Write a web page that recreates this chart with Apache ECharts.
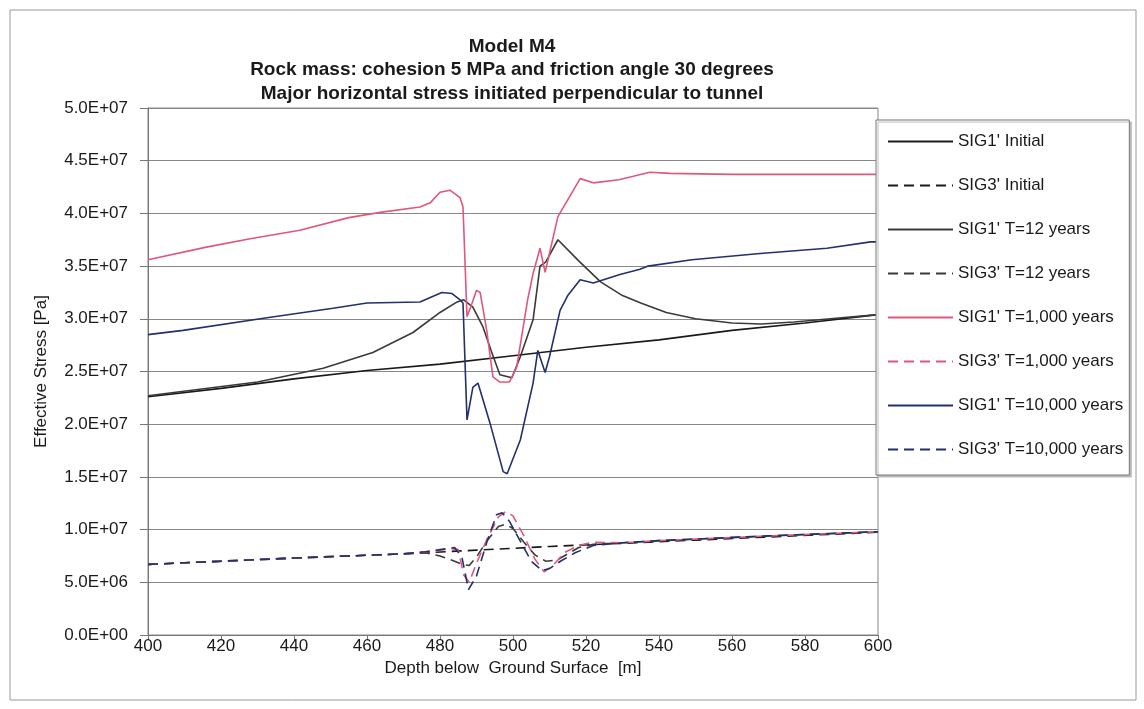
<!DOCTYPE html>
<html lang="en">
<head>
	<meta charset="UTF-8">
	<title>Model M4 - Effective Stress</title>
	<script src="https://cdn.jsdelivr.net/npm/echarts@6/dist/echarts.min.js"></script>
	<style>
		html, body {
			margin: 0;
			padding: 0;
			background-color: #fff;
		}
		#chart {
			width: 1144px;
			height: 709px;
		}
	</style>
</head>
<body>
	<div id="chart"></div>

	<script>
		// ---- data (depth in m, stress in Pa) ----
		var depthSig1Init = [400, 420, 440, 460, 480, 500, 520, 540, 560, 580, 600];
		var sig1Init = [2.26e7, 2.34e7, 2.43e7, 2.51e7, 2.57e7, 2.65e7, 2.73e7, 2.80e7, 2.89e7, 2.96e7, 3.04e7];

		var depthSig3Init = [400, 440, 470, 490, 510, 530, 550, 570, 600];
		var sig3Init = [6.7e6, 7.3e6, 7.7e6, 8.05e6, 8.4e6, 8.7e6, 9.0e6, 9.3e6, 9.75e6];

		var depthSig1T12 = [400, 430, 448, 461.6, 472.6, 480, 484.7, 486.5, 489, 491.8, 494, 496.4, 499.7, 502, 505.5,
			507.4, 509, 512.3, 518, 524, 530, 535, 542, 550, 560, 568, 577, 590, 600];
		var sig1T12 = [2.27e7, 2.40e7, 2.53e7, 2.68e7, 2.87e7, 3.06e7, 3.16e7, 3.18e7, 3.11e7, 2.92e7, 2.70e7, 2.47e7, 2.44e7, 2.64e7, 2.99e7,
			3.50e7, 3.54e7, 3.75e7, 3.55e7, 3.35e7, 3.22e7, 3.15e7, 3.06e7, 3.00e7, 2.96e7, 2.95e7, 2.97e7, 3.01e7, 3.04e7];

		var depthSig3T12 = [400, 440, 470, 476, 480, 484, 486, 488, 490, 493, 496, 498, 500, 503, 506, 509, 512, 515, 518,
			522, 530, 540, 550, 570, 600];
		var sig3T12 = [6.7e6, 7.3e6, 7.7e6, 7.8e6, 7.5e6, 7.0e6, 6.7e6, 6.6e6, 7.4e6, 9.0e6, 10.3e6, 10.5e6, 10.1e6, 8.8e6, 7.6e6, 7.0e6, 7.1e6, 7.7e6, 8.3e6,
			8.6e6, 8.75e6, 8.95e6, 9.1e6, 9.4e6, 9.8e6];

		var depthSig1T1000 = [400, 416, 428, 441.6, 455, 463.6, 474.5, 477.3, 480, 482.7, 485.5, 486.3, 487.4, 488.8, 490, 491,
			492.8, 494.5, 496.4, 499, 501, 504, 505.5, 507.4, 508.8, 512.3, 518.4, 522, 529, 537.5, 543, 560, 580, 600];
		var sig1T1000 = [3.56e7, 3.68e7, 3.76e7, 3.84e7, 3.96e7, 4.01e7, 4.06e7, 4.10e7, 4.20e7, 4.22e7, 4.15e7, 4.06e7, 3.02e7, 3.15e7, 3.27e7, 3.25e7,
			2.89e7, 2.45e7, 2.40e7, 2.40e7, 2.54e7, 3.18e7, 3.43e7, 3.67e7, 3.44e7, 3.97e7, 4.33e7, 4.29e7, 4.32e7, 4.39e7, 4.38e7, 4.37e7, 4.37e7, 4.37e7];

		var depthSig3T1000 = [400, 440, 470, 478, 483, 485, 486.5, 488, 490, 493, 496, 498, 500, 503, 506, 508.5, 511, 514,
			518, 522, 530, 540, 550, 570, 600];
		var sig3T1000 = [6.7e6, 7.3e6, 7.7e6, 7.95e6, 8.2e6, 8.1e6, 5.7e6, 5.0e6, 6.8e6, 9.2e6, 11.2e6, 11.7e6, 11.3e6, 9.4e6, 7.2e6, 6.0e6, 6.6e6, 7.8e6,
			8.5e6, 8.8e6, 8.75e6, 8.95e6, 9.1e6, 9.4e6, 9.8e6];

		var depthSig1T10000 = [400, 409.6, 432.6, 450.7, 460, 474.5, 480.5, 483.3, 485.5, 486.3, 487.4, 489, 490.4, 493.7, 497.3,
			498.4, 502, 505.5, 506.8, 508.8, 510, 512.9, 515, 518.4, 522, 529.3, 534.8, 537, 549, 567.7, 586, 598, 600];
		var sig1T10000 = [2.85e7, 2.89e7, 3.01e7, 3.10e7, 3.15e7, 3.16e7, 3.25e7, 3.24e7, 3.18e7, 3.15e7, 2.04e7, 2.35e7, 2.39e7, 2.01e7, 1.55e7,
			1.53e7, 1.85e7, 2.39e7, 2.70e7, 2.49e7, 2.64e7, 3.08e7, 3.22e7, 3.37e7, 3.34e7, 3.42e7, 3.47e7, 3.50e7, 3.56e7, 3.62e7, 3.67e7, 3.73e7, 3.73e7];

		var depthSig3T10000 = [400, 440, 470, 476, 480, 484, 486, 487.8, 490, 493, 495.5, 497, 499, 502, 505, 508, 510, 513,
			517, 522, 530, 540, 550, 570, 600];
		var sig3T10000 = [6.7e6, 7.3e6, 7.7e6, 7.9e6, 8.1e6, 8.3e6, 7.4e6, 4.3e6, 5.6e6, 9.0e6, 11.4e6, 11.6e6, 10.8e6, 8.9e6, 7.0e6, 6.1e6, 6.3e6, 7.0e6,
			7.8e6, 8.5e6, 8.75e6, 8.95e6, 9.1e6, 9.4e6, 9.8e6];

		var seriesNames = ["SIG1' Initial", "SIG3' Initial", "SIG1' T=12 years", "SIG3' T=12 years",
			"SIG1' T=1,000 years", "SIG3' T=1,000 years", "SIG1' T=10,000 years", "SIG3' T=10,000 years"];

		var FONT = 'Liberation Sans, Arial, sans-serif';
		var BLACK = '#1a1a1a';
		var GREY = '#3a3a3a';
		var PINK = '#e0577c';
		var NAVY = '#23306e';

		function pairs(xs, ys) {
			var out = [];
			for (var i = 0; i < xs.length; i++) {
				out.push([xs[i], ys[i]]);
			}
			return out;
		}

		function makeLine(name, xs, ys, color, dashed) {
			return {
				name: name,
				type: 'line',
				data: pairs(xs, ys),
				symbol: 'none',
				smooth: false,
				lineStyle: {
					color: color,
					width: 1.6,
					type: dashed ? [10, 6] : 'solid'
				},
				itemStyle: { color: color }
			};
		}

		// 5.0E+07 style labels
		function sciLabel(v) {
			var s = v.toExponential(1).split('e');
			var exp = parseInt(s[1], 10);
			var sign = exp < 0 ? '-' : '+';
			exp = Math.abs(exp);
			return s[0] + 'E' + sign + (exp < 10 ? '0' : '') + exp;
		}

		var chart = echarts.init(document.getElementById('chart'));

		var option = {
			animation: false,
			backgroundColor: '#fff',
			textStyle: { fontFamily: FONT },
			title: {
				text: 'Model M4\nRock mass: cohesion 5 MPa and friction angle 30 degrees\nMajor horizontal stress initiated perpendicular to tunnel',
				left: 512,
				top: 35,
				padding: 0,
				textAlign: 'center',
				textStyle: {
					fontFamily: FONT,
					fontSize: 19,
					fontWeight: 'bold',
					color: BLACK,
					lineHeight: 23.5
				}
			},
			legend: {
				orient: 'vertical',
				left: 876,
				top: 120,
				padding: [13, 6, 17, 11],
				itemGap: 27,
				itemWidth: 65,
				itemHeight: 14,
				borderColor: '#777',
				borderWidth: 1,
				backgroundColor: '#fff',
				shadowColor: '#bbb',
				shadowOffsetX: 2,
				shadowOffsetY: 2,
				shadowBlur: 0,
				itemStyle: { opacity: 0 },
				textStyle: {
					fontFamily: FONT,
					fontSize: 17,
					color: BLACK
				},
				data: seriesNames
			},
			grid: {
				left: 148,
				right: 266,
				top: 108,
				bottom: 74,
				show: true,
				borderColor: '#888',
				borderWidth: 1
			},
			xAxis: {
				type: 'value',
				min: 400,
				max: 600,
				interval: 20,
				name: 'Depth below  Ground Surface  [m]',
				nameLocation: 'middle',
				nameGap: 21,
				nameTextStyle: { fontFamily: FONT, fontSize: 17, color: BLACK },
				axisLine: { lineStyle: { color: '#777' } },
				axisTick: { length: 5, lineStyle: { color: '#777' } },
				axisLabel: { fontFamily: FONT, fontSize: 17, color: BLACK, margin: 3 },
				splitLine: { show: false }
			},
			yAxis: {
				type: 'value',
				min: 0,
				max: 5e7,
				interval: 5e6,
				name: 'Effective Stress [Pa]',
				nameLocation: 'middle',
				nameGap: 98,
				nameTextStyle: { fontFamily: FONT, fontSize: 17, color: BLACK },
				axisLine: { show: true, lineStyle: { color: '#777' } },
				axisTick: { show: true, length: 8, lineStyle: { color: '#777' } },
				axisLabel: {
					fontFamily: FONT,
					fontSize: 17,
					color: BLACK,
					margin: 20,
					formatter: sciLabel
				},
				splitLine: { lineStyle: { color: '#888', width: 1 } }
			},
			graphic: [{
				type: 'rect',
				silent: true,
				z: -1,
				shape: { x: 10, y: 10, width: 1126, height: 690 },
				style: { fill: 'none', stroke: '#999', lineWidth: 1 }
			}],
			series: [
				makeLine(seriesNames[0], depthSig1Init, sig1Init, BLACK, false),
				makeLine(seriesNames[1], depthSig3Init, sig3Init, BLACK, true),
				makeLine(seriesNames[2], depthSig1T12, sig1T12, GREY, false),
				makeLine(seriesNames[3], depthSig3T12, sig3T12, GREY, true),
				makeLine(seriesNames[4], depthSig1T1000, sig1T1000, PINK, false),
				makeLine(seriesNames[5], depthSig3T1000, sig3T1000, PINK, true),
				makeLine(seriesNames[6], depthSig1T10000, sig1T10000, NAVY, false),
				makeLine(seriesNames[7], depthSig3T10000, sig3T10000, NAVY, true)
			]
		};

		chart.setOption(option);
	</script>
</body>
</html>
